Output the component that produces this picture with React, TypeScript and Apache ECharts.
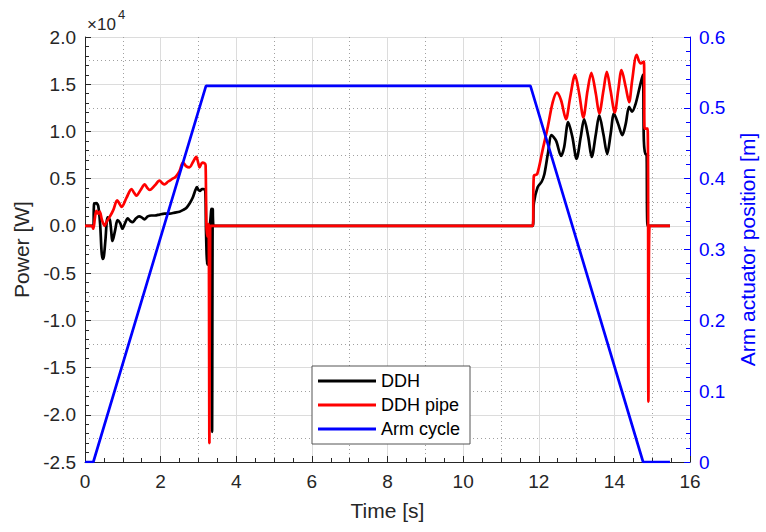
import React, { useEffect, useRef } from "react";
import * as echarts from "echarts";

const FONT = "'Liberation Sans', Arial, Helvetica, sans-serif";

// DDH (black) power [W]
const ddhTime = [
  0, 0.22, 0.24, 0.3, 0.35, 0.4, 0.44, 0.47, 0.5, 0.54, 0.6, 0.66, 0.73, 0.8, 0.86, 0.93, 0.99, 1.06, 1.13, 1.2,
  1.26, 1.35, 1.43, 1.5, 1.57, 1.66, 1.75, 1.85, 1.97, 2.1, 2.24, 2.37, 2.5, 2.6, 2.68, 2.77, 2.85, 2.92, 2.96, 3.0,
  3.04, 3.09, 3.13, 3.18, 3.2, 3.23, 3.26, 3.3, 3.34, 3.36, 3.38, 3.4, 11.84, 11.87, 11.97, 12.08, 12.15, 12.24,
  12.34, 12.46, 12.59, 12.67, 12.78, 12.89, 13.0, 13.11, 13.2, 13.31, 13.4, 13.51, 13.6, 13.71, 13.81, 13.9, 13.99,
  14.1, 14.21, 14.3, 14.39, 14.47, 14.56, 14.67, 14.75, 14.78, 14.82, 14.85, 14.88, 15.47,
];
const ddhPower = [
  0, 0, 2300, 2400, 2100, 200, -2800, -3500, -3200, -1500, 900, 600, -1600, -400, 600, 300, -300, 300, 800, 500,
  400, 800, 1000, 900, 700, 1000, 1100, 1100, 1200, 1300, 1300, 1400, 1500, 1700, 1900, 2400, 3000, 3800, 4100, 3800,
  3700, 3900, 3900, 3800, -500, -4100, -600, 0, 1800, -21800, 1800, 0, 0, 2400, 4100, 4700, 5500, 7600,
  9600, 9000, 7400, 8300, 11000, 9400, 7100, 9400, 11300, 9400, 7300, 9700, 11700, 9700, 7600, 9700, 11900,
  10800, 9600, 10800, 12600, 12100, 12900, 14700, 16000, 9000, 7600, 7600, 0, 0,
];

// DDH pipe (red) power [W]
const pipeTime = [
  0, 0.18, 0.22, 0.26, 0.3, 0.35, 0.39, 0.45, 0.52, 0.58, 0.66, 0.75, 0.85, 0.92, 0.97, 1.1, 1.23, 1.3, 1.36, 1.47,
  1.58, 1.65, 1.71, 1.85, 1.97, 2.05, 2.1, 2.2, 2.32, 2.4, 2.5, 2.59, 2.68, 2.76, 2.86, 2.94, 3.0, 3.03, 3.1, 3.17,
  3.19, 3.21, 3.23, 3.25, 3.27, 3.29, 3.31, 3.33, 11.84, 11.87, 11.96, 12.1, 12.24, 12.37, 12.48, 12.59, 12.72,
  12.83, 12.96, 13.07, 13.18, 13.29, 13.39, 13.51, 13.6, 13.71, 13.8, 13.9, 14.01, 14.1, 14.19, 14.3, 14.39, 14.47,
  14.59, 14.69, 14.78, 14.8, 14.88, 14.9, 14.93, 15.47,
];
const pipePower = [
  0, 0, -300, 800, 1600, 1300, 1500, 600, 0, 500, 1000, 1700, 2700, 2300, 2000, 3000, 3900, 3500, 3200, 3800,
  4400, 4000, 3800, 4300, 4800, 4500, 4400, 4700, 5000, 5200, 5800, 6700, 6300, 6200, 6800, 7300, 6600, 6200, 6700, 6600,
  6400, 300, -1100, -900, 200, -23000, -200, 0, 0, 5300, 5500, 8000, 10500, 13100, 14100, 13300, 11300,
  13600, 16000, 14000, 11500, 14300, 16200, 14000, 11900, 14300, 16300, 14300, 12000, 14300, 16500, 14700, 13100, 15400,
  18100, 17200, 17400, 10300, 10300, -18600, 0, 0,
];

// Arm cycle (blue) actuator position [m]
const armTime = [0, 0.22, 3.2, 11.78, 14.76, 15.47];
const armPos = [0, 0, 0.531, 0.531, 0, 0];

const powerTicks = { min: -25000, max: 20000, interval: 5000 };
const armTicks = { min: 0, max: 0.6, interval: 0.1 };

const zip = (a: number[], b: number[]) => a.map((t, i) => [t, b[i]]);

export default function App() {
  const ref = useRef<HTMLDivElement>(null);
  useEffect(() => {
    if (!ref.current) return;
    const chart = echarts.init(ref.current, undefined, { renderer: "svg" });
    const dark = "#262626";
    const blue = "#0000ff";
    chart.setOption({
      animation: false,
      backgroundColor: "#ffffff",
      textStyle: { fontFamily: FONT },
      grid: { left: 85, right: 74, top: 37, bottom: 70, containLabel: false },
      legend: {
        data: ["DDH", "DDH pipe", "Arm cycle"],
        orient: "vertical",
        left: 312,
        top: 366,
        icon: "rect",
        itemWidth: 58,
        itemHeight: 3,
        itemGap: 6,
        padding: [6, 10, 6, 6],
        backgroundColor: "#ffffff",
        borderColor: "#555555",
        borderWidth: 1,
        borderRadius: 0,
        textStyle: { fontSize: 18, color: "#000", fontFamily: FONT, lineHeight: 18 },
      },
      graphic: [
        { type: "text", left: 87, top: 16, style: { text: "×10", fontSize: 17, fill: dark, fontFamily: FONT } },
        { type: "text", left: 118, top: 8, style: { text: "4", fontSize: 13, fill: dark, fontFamily: FONT } },
      ],
      xAxis: [
        {
          type: "value",
          min: 0,
          max: 16,
          interval: 2,
          name: "Time [s]",
          nameLocation: "middle",
          nameGap: 38,
          nameTextStyle: { fontSize: 21, color: dark, fontFamily: FONT },
          axisLine: { show: true, onZero: false, lineStyle: { color: dark, width: 1 } },
          axisTick: { show: true, inside: true, length: 6, lineStyle: { color: dark } },
          minorTick: { show: true, splitNumber: 4, length: 4, lineStyle: { color: dark } },
          axisLabel: { fontSize: 19, color: dark, margin: 10, fontFamily: FONT },
          splitLine: { show: true, lineStyle: { color: "#dcdcdc", width: 1 } },
        },
        {
          type: "value",
          min: 0,
          max: 16,
          interval: 1,
          axisLine: { show: false },
          axisTick: { show: false },
          axisLabel: { show: false },
          splitLine: { show: true, lineStyle: { color: ["transparent", "#a0a0a0"], type: [1, 3], width: 1 } },
        },
      ],
      yAxis: [
        {
          type: "value",
          position: "left",
          ...powerTicks,
          name: "Power [W]",
          nameLocation: "middle",
          nameGap: 47,
          nameTextStyle: { fontSize: 21, color: dark, fontFamily: FONT },
          axisLine: { show: true, onZero: false, lineStyle: { color: dark, width: 1 } },
          axisTick: { show: true, inside: true, length: 6, lineStyle: { color: dark } },
          minorTick: { show: true, splitNumber: 5, length: 4, lineStyle: { color: dark } },
          axisLabel: {
            fontSize: 19,
            color: dark,
            margin: 9,
            fontFamily: FONT,
            formatter: (v: number) => (v / 1e4).toFixed(1),
          },
          splitLine: { show: true, lineStyle: { color: "#dcdcdc", width: 1 } },
        },
        {
          type: "value",
          position: "right",
          ...armTicks,
          name: "Arm actuator position [m]",
          nameLocation: "middle",
          nameGap: 47,
          nameTextStyle: { fontSize: 21, color: blue, fontFamily: FONT },
          axisLine: { show: true, onZero: false, lineStyle: { color: blue, width: 1 } },
          axisTick: { show: true, inside: true, length: 6, lineStyle: { color: blue } },
          minorTick: { show: true, splitNumber: 5, length: 4, lineStyle: { color: blue } },
          axisLabel: {
            fontSize: 19,
            color: blue,
            margin: 9,
            fontFamily: FONT,
            formatter: (v: number) => (v === 0 ? "0" : v.toFixed(1)),
          },
          splitLine: { show: false },
        },
        {
          type: "value",
          position: "left",
          min: powerTicks.min,
          max: powerTicks.max,
          interval: 2500,
          axisLine: { show: false },
          axisTick: { show: false },
          axisLabel: { show: false },
          splitLine: { show: true, lineStyle: { color: ["transparent", "#a0a0a0"], type: [1, 3], width: 1 } },
        },
      ],
      series: [
        {
          name: "DDH",
          type: "line",
          xAxisIndex: 0,
          yAxisIndex: 0,
          data: zip(ddhTime, ddhPower),
          showSymbol: false,
          smooth: 0.3,
          lineStyle: { color: "#000000", width: 2.7 },
          itemStyle: { color: "#000000" },
        },
        {
          name: "DDH pipe",
          type: "line",
          xAxisIndex: 0,
          yAxisIndex: 0,
          data: zip(pipeTime, pipePower),
          showSymbol: false,
          smooth: 0.3,
          lineStyle: { color: "#ff0000", width: 2.7 },
          itemStyle: { color: "#ff0000" },
        },
        {
          name: "Arm cycle",
          type: "line",
          xAxisIndex: 0,
          yAxisIndex: 1,
          data: zip(armTime, armPos),
          showSymbol: false,
          lineStyle: { color: "#0000ff", width: 2.7 },
          itemStyle: { color: "#0000ff" },
        },
      ],
    });
    return () => chart.dispose();
  }, []);
  return <div ref={ref} style={{ position: "fixed", left: 0, top: 0, width: 766, height: 532 }} />;
}
